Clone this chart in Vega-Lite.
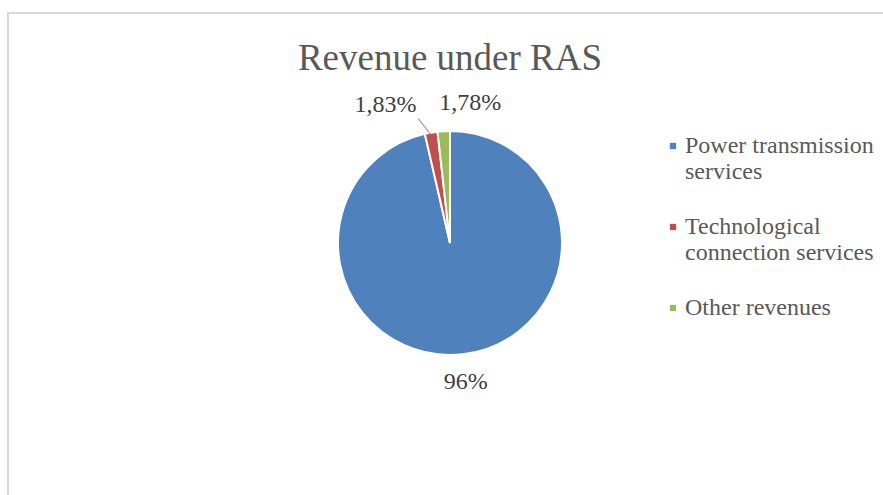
{
  "$schema": "https://vega.github.io/schema/vega-lite/v6.json",
  "width": 900,
  "height": 500,
  "autosize": {"type": "none"},
  "padding": {"left": 8, "top": 13, "right": 0, "bottom": 0},
  "background": "white",
  "config": {
    "view": {"stroke": null},
    "font": "Liberation Serif, DejaVu Serif, serif"
  },
  "title": {
    "text": "Revenue under RAS",
    "font": "Liberation Serif, DejaVu Serif, serif",
    "fontSize": 37,
    "fontWeight": "normal",
    "color": "#595959",
    "anchor": "middle",
    "frame": "group",
    "dx": -8,
    "dy": 70
  },
  "data": {
    "values": [
      {"idx": 0, "category": "Power transmission services", "value": 96.39, "label": "96%"},
      {"idx": 1, "category": "Technological connection services", "value": 1.83, "label": "1,83%"},
      {"idx": 2, "category": "Other revenues", "value": 1.78, "label": "1,78%"}
    ]
  },
  "layer": [
    {
      "data": {"values": [{"frame": 1}]},
      "mark": {"type": "rect", "fill": null, "stroke": "#d9d9d9", "strokeWidth": 2},
      "encoding": {}
    },
    {
      "mark": {"type": "arc", "outerRadius": 112, "stroke": "white", "strokeWidth": 2, "x": 442, "y": 230},
      "encoding": {
        "theta": {"field": "value", "type": "quantitative", "stack": true},
        "order": {"field": "idx", "type": "quantitative"},
        "color": {
          "field": "category",
          "type": "nominal",
          "scale": {
            "domain": ["Power transmission services", "Technological connection services", "Other revenues"],
            "range": ["#4f81bd", "#c0504d", "#9bbb59"]
          },
          "sort": null,
          "legend": {
            "title": null,
            "orient": "none",
            "legendX": 653,
            "legendY": 121,
            "symbolType": "square",
            "symbolSize": 40,
            "symbolStrokeWidth": 0,
            "labelFont": "Liberation Serif, DejaVu Serif, serif",
            "labelFontSize": 24,
            "labelColor": "#595959",
            "labelOffset": 0,
            "labelLimit": 300,
            "rowPadding": 31,
            "labelExpr": "datum.label == 'Power transmission services' ? ['Power transmission', 'services'] : datum.label == 'Technological connection services' ? ['Technological', 'connection services'] : datum.label"
          }
        }
      }
    },
    {
      "mark": {"type": "text", "radius": 120, "x": 442, "y": 230, "angle": 52, "dx": -2, "dy": 4, "font": "Liberation Serif, DejaVu Serif, serif", "fontSize": 20, "color": "#8c8c8c"},
      "encoding": {
        "theta": {"field": "value", "type": "quantitative", "stack": true},
        "order": {"field": "idx", "type": "quantitative"},
        "text": {"condition": {"test": "datum.idx == 1", "value": "—"}, "value": ""}
      }
    },
    {
      "mark": {"type": "text", "radius": 140, "x": 442, "y": 230, "font": "Liberation Serif, DejaVu Serif, serif", "fontSize": 24, "color": "#404040"},
      "encoding": {
        "theta": {"field": "value", "type": "quantitative", "stack": true},
        "order": {"field": "idx", "type": "quantitative"},
        "text": {"condition": {"test": "datum.idx == 0", "field": "label"}, "value": ""}
      }
    },
    {
      "mark": {"type": "text", "radius": 140, "x": 442, "y": 230, "dx": -41, "font": "Liberation Serif, DejaVu Serif, serif", "fontSize": 24, "color": "#404040"},
      "encoding": {
        "theta": {"field": "value", "type": "quantitative", "stack": true},
        "order": {"field": "idx", "type": "quantitative"},
        "text": {"condition": {"test": "datum.idx == 1", "field": "label"}, "value": ""}
      }
    },
    {
      "mark": {"type": "text", "radius": 140, "x": 442, "y": 230, "dx": 28, "font": "Liberation Serif, DejaVu Serif, serif", "fontSize": 24, "color": "#404040"},
      "encoding": {
        "theta": {"field": "value", "type": "quantitative", "stack": true},
        "order": {"field": "idx", "type": "quantitative"},
        "text": {"condition": {"test": "datum.idx == 2", "field": "label"}, "value": ""}
      }
    }
  ]
}
